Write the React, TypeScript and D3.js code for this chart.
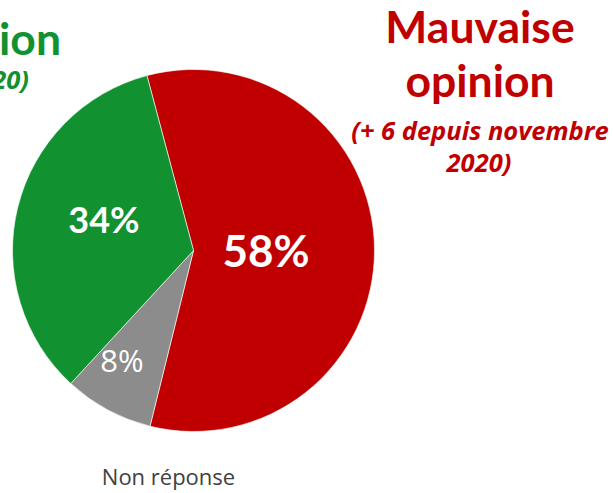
import React from "react";
import * as d3 from "d3";

const categories = ["Mauvaise opinion", "Non réponse", "Bonne opinion"];
const values = [58, 8, 34];
const labels = ["58%", "8%", "34%"];
const colors = ["#C00000", "#8C8C8C", "#119130"];

const W = 613;
const H = 493;
const cx = 193.5;
const cy = 250.5;
const R = 181;
const BOLD = "Lato, 'Open Sans', sans-serif";
const REG = "'Open Sans', Lato, sans-serif";

export default function App() {
  const start = (-14.9 * Math.PI) / 180;
  const pie = d3
    .pie<number>()
    .sort(null)
    .startAngle(start)
    .endAngle(start + 2 * Math.PI)(values);
  const arc = d3.arc<d3.PieArcDatum<number>>().innerRadius(0).outerRadius(R);

  const labelStyle = [
    { x: 266, y: 267, size: 44, weight: 700, font: BOLD },
    { x: 122, y: 372, size: 31, weight: 400, font: REG },
    { x: 104, y: 233, size: 36, weight: 700, font: BOLD },
  ];

  return (
    <svg
      width={W}
      height={H}
      style={{ position: "absolute", left: 0, top: 0, background: "#fff" }}
    >
      <g transform={`translate(${cx},${cy})`}>
        {pie.map((d, i) => (
          <path key={categories[i]} d={arc(d) || ""} fill={colors[i]} stroke="#fff" strokeWidth={0.6} />
        ))}
      </g>
      {pie.map((d, i) => (
        <text
          key={"l" + i}
          x={labelStyle[i].x}
          y={labelStyle[i].y}
          textAnchor="middle"
          fill="#fff"
          fontFamily={labelStyle[i].font}
          fontSize={labelStyle[i].size}
          fontWeight={labelStyle[i].weight}
        >
          {labels[i]}
        </text>
      ))}
      {/* Right title */}
      <g fill="#C00000" textAnchor="middle" fontWeight={700}>
        <text x={480} y={43} fontSize={44.5} fontFamily={BOLD}>Mauvaise</text>
        <text x={480} y={97} fontSize={44.5} fontFamily={BOLD}>opinion</text>
        <text x={480} y={140} fontSize={25.5} fontStyle="italic" fontFamily={REG}>(+ 6 depuis novembre</text>
        <text x={479} y={172} fontSize={25.5} fontStyle="italic" fontFamily={REG}>2020)</text>
      </g>
      {/* Left title (partially cropped by the frame) */}
      <g fill="#119130" textAnchor="end" fontWeight={700}>
        <text x={61} y={55} fontSize={44.5} fontFamily={BOLD}>Bonne opinion</text>
        <text x={29} y={89} fontSize={25.5} fontStyle="italic" fontFamily={REG}>(- 3 depuis novembre 2020)</text>
      </g>
      <text x={168.5} y={485} textAnchor="middle" fill="#404040" fontSize={22} fontFamily={REG}>
        {categories[1]}
      </text>
    </svg>
  );
}
